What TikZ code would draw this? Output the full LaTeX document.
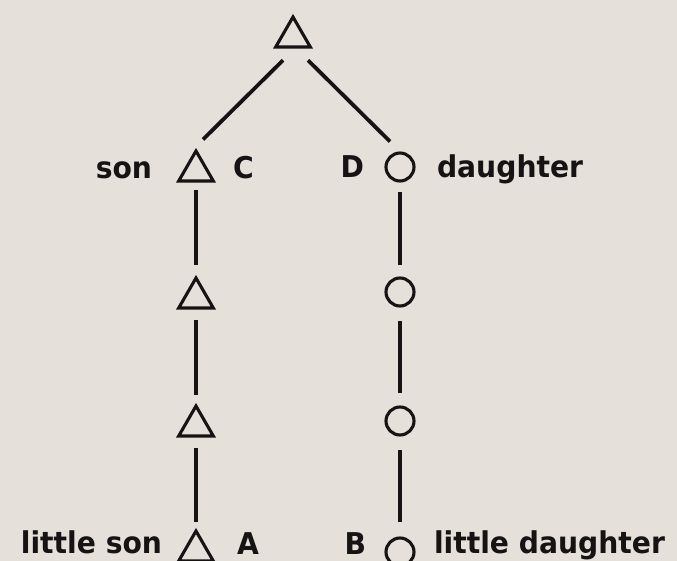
\documentclass[tikz,border=0pt]{standalone}
\usepackage{fontspec}
\newfontfamily\lblfont{DejaVu Sans}[FakeStretch=0.94]
\usetikzlibrary{shapes.geometric}
\definecolor{paper}{HTML}{E6E0DA}
\definecolor{ink}{HTML}{151313}
\tikzset{
  tri/.style={draw=ink, line width=3.1pt, regular polygon, regular polygon sides=3,
              minimum size=40pt, inner sep=0pt, outer sep=0pt},
  circ/.style={draw=ink, line width=3.1pt, circle, minimum size=28pt, inner sep=0pt, outer sep=0pt},
  conn/.style={draw=ink, line width=3.8pt},
  lbl/.style={text=ink, inner sep=0pt, outer sep=0pt, font=\lblfont\bfseries\fontsize{30}{36}\selectfont}
}
\begin{document}
\begin{tikzpicture}[x=1pt, y=-1pt]
  \fill[paper] (0,0) rectangle (677,561);
  \useasboundingbox (0,0) rectangle (677,561);
  \clip (0,0) rectangle (677,561);

  % triangles (male)
  \node[tri] (t0) at (293,37) {};
  \node[tri] (t1) at (196,171) {};
  \node[tri] (t2) at (196,298) {};
  \node[tri] (t3) at (196,426) {};
  \node[tri] (t4) at (196,551) {};
  % circles (female)
  \node[circ] (c1) at (400,167) {};
  \node[circ] (c2) at (400,292) {};
  \node[circ] (c3) at (400,421) {};
  \node[circ] (c4) at (400,552) {};

  % diagonals
  \draw[conn] ([xshift=-10pt,yshift=-13.25pt]t0.south) -- ([xshift=7pt,yshift=11.5pt]t1.north);
  \draw[conn] ([xshift=15pt,yshift=-13.25pt]t0.south) -- ([xshift=-10pt,yshift=11.5pt]c1.north);

  % verticals, left
  \draw[conn, shorten <=9pt, shorten >=13pt] (t1.south) -- (t2.north);
  \draw[conn, shorten <=12pt, shorten >=11.5pt] (t2.south) -- (t3.north);
  \draw[conn, shorten <=12pt, shorten >=9.5pt] (t3.south) -- (t4.north);
  % verticals, right
  \draw[conn, shorten <=11.5pt, shorten >=12.5pt] (c1.south) -- (c2.north);
  \draw[conn, shorten <=15pt, shorten >=14.5pt] (c2.south) -- (c3.north);
  \draw[conn, shorten <=15pt, shorten >=16pt] (c3.south) -- (c4.north);

  % labels
  \node[lbl, anchor=base east] (lson) at (152,179) {son};
  \node[lbl, anchor=base west] (lC) at (233,179) {C};
  \node[lbl, anchor=base east] (lD) at (364,178) {D};
  \node[lbl, anchor=base west] (ldau) at (437,178) {daughter};
  \node[lbl, anchor=base east] (llson) at (162,553) {little son};
  \node[lbl, anchor=base west] (lA) at (237,554) {A};
  \node[lbl, anchor=base east] (lB) at (366,554) {B};
  \node[lbl, anchor=base west] (lldau) at (434,553) {little daughter};
\end{tikzpicture}
\end{document}
